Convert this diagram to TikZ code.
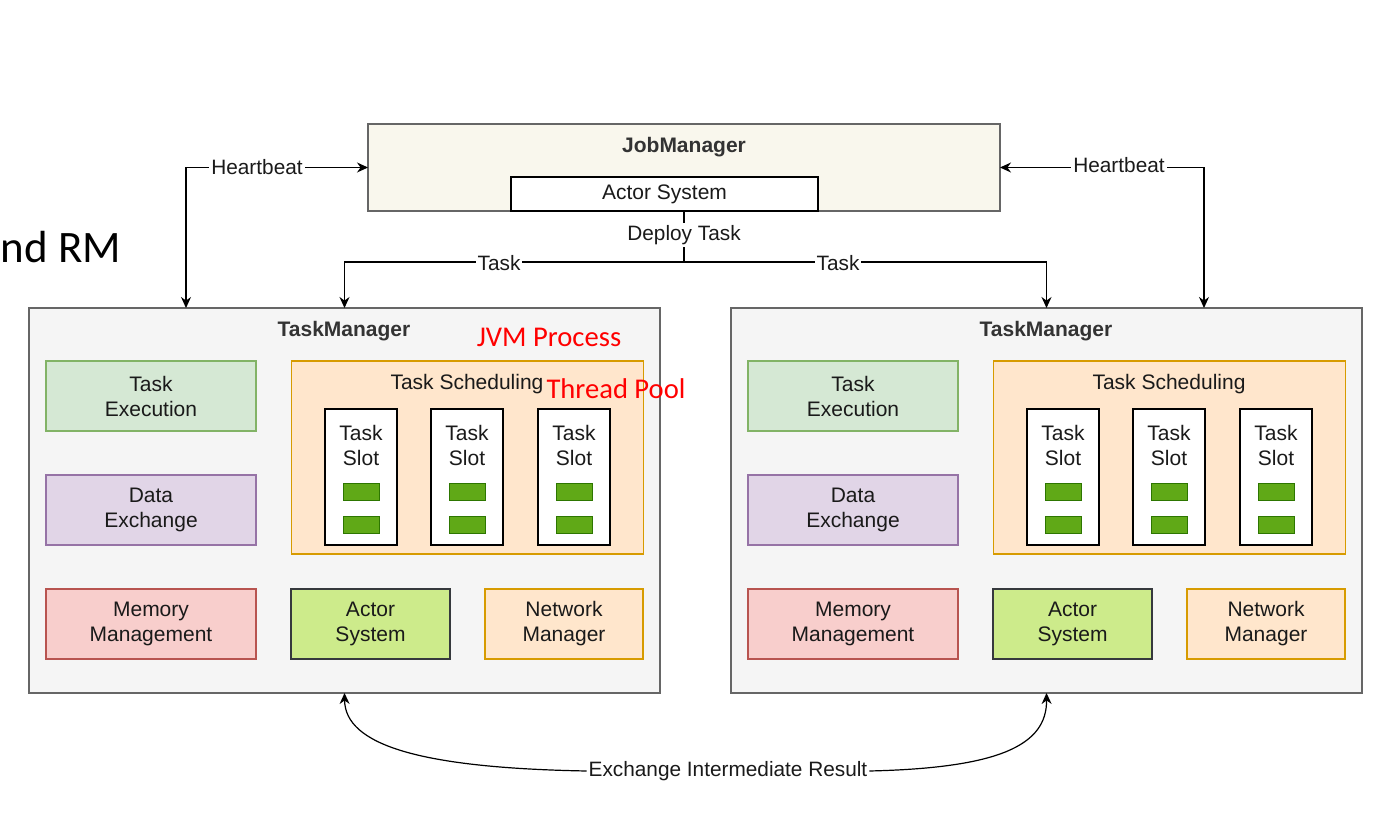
\documentclass[tikz,border=0pt]{standalone}
\usepackage{fontspec}
\setmainfont{Liberation Sans}
\newfontfamily\calib{Carlito}
\usetikzlibrary{calc,arrows.meta}
\definecolor{jmfill}{HTML}{F9F7ED}
\definecolor{frame}{HTML}{666666}
\definecolor{tmfill}{HTML}{F5F5F5}
\definecolor{gfill}{HTML}{D5E8D4}\definecolor{gdraw}{HTML}{82B366}
\definecolor{pfill}{HTML}{E1D5E7}\definecolor{pdraw}{HTML}{9673A6}
\definecolor{rfill}{HTML}{F8CECC}\definecolor{rdraw}{HTML}{B85450}
\definecolor{lfill}{HTML}{CDEB8B}\definecolor{ldraw}{HTML}{36393D}
\definecolor{ofill}{HTML}{FFE6CC}\definecolor{odraw}{HTML}{D79B00}
\definecolor{sfill}{HTML}{60A917}\definecolor{sdraw}{HTML}{2D7600}
\definecolor{txt}{HTML}{1A1A1A}
\tikzset{
  every node/.style={inner sep=0pt, outer sep=0pt, text=txt},
  base/.style={draw, line width=0.6pt, align=center, font=\fontsize{10.5pt}{12.5pt}\selectfont},
  tmbox/.style={base, fill=tmfill, draw=frame, minimum width=315.5pt, minimum height=192.5pt},
  comp/.style={base, minimum width=105pt, minimum height=35pt},
  slotbox/.style={base, fill=white, draw=black, minimum width=36pt, minimum height=68pt},
  gbar/.style={draw=sdraw, fill=sfill, line width=0.5pt, minimum width=18pt, minimum height=8.5pt},
  lbl/.style={fill=white, inner sep=1pt, font=\fontsize{10.4pt}{12pt}\selectfont},
  bold/.style={font=\bfseries\fontsize{10.5pt}{12pt}\selectfont, text=black!80},
  red/.style={text=red, font=\calib\fontsize{14.3pt}{16pt}\selectfont},
  conn/.style={line width=0.6pt, black},
  arr/.style={-{Stealth[length=5.5pt,width=5pt]}},
  darr/.style={{Stealth[length=5.5pt,width=5pt]}-{Stealth[length=5.5pt,width=5pt]}},
}
\begin{document}
\begin{tikzpicture}[x=0.5pt,y=-0.5pt]
\useasboundingbox (0,0) rectangle (1397,817);
% slide fragment
\node[anchor=west, font=\calib\fontsize{22.5pt}{28pt}\selectfont, text=black] (rm) at (1,247) {nd RM};
% JobManager
\node[base, fill=jmfill, draw=frame, minimum width=316pt, minimum height=43.5pt] (jm) at (684,167.5) {};
\node[bold] (jmt) at (684,147) {JobManager};
\node[base, fill=white, draw=black, minimum width=153.5pt, minimum height=17pt] (jmas) at (664.5,194) {Actor System};
% TaskManagers
\foreach \o/\i in {0/1,702/2}{
  \node[tmbox] (tm\i) at (344.5+\o,500.5) {};
  \node[bold] (tmt\i) at (344+\o,331) {TaskManager};
  \node[comp, fill=gfill, draw=gdraw] (te\i) at (151+\o,396) {Task\\Execution};
  \node[comp, fill=pfill, draw=pdraw] (de\i) at (151+\o,510) {Data\\Exchange};
  \node[comp, fill=rfill, draw=rdraw] (mm\i) at (151+\o,624) {Memory\\Management};
  \node[comp, fill=lfill, draw=ldraw, minimum width=79.5pt] (as\i) at (370.5+\o,624) {Actor\\System};
  \node[comp, fill=ofill, draw=odraw, minimum width=79pt] (nm\i) at (564+\o,624) {Network\\Manager};
  \node[base, fill=ofill, draw=odraw, minimum width=176pt, minimum height=96.5pt] (ts\i) at (467.5+\o,457.5) {};
  \node[base, draw=none] (tst\i) at (467+\o,384) {Task Scheduling};
  \foreach \sx/\j in {361/a,467/b,574/c}{
    \node[slotbox] (sl\i\j) at (\sx+\o,477) {};
    \node[base, draw=none] (slt\i\j) at (\sx+\o,445) {Task\\Slot};
    \node[gbar] (g\i\j1) at (\sx+\o,492.5) {};
    \node[gbar] (g\i\j2) at (\sx+\o,525.5) {};
  }
}
\node[red] (jvm) at (549,337) {JVM Process};
\node[red] (tp) at (616,389) {Thread Pool};
% Heartbeats
\draw[conn, darr] (jm.west) -| ($(tm1.north west)+(157,0)$);
\draw[conn, darr] (jm.east) -| ($(tm2.north west)+(473,0)$);
\node[lbl] (hb1) at (257,167) {Heartbeat};
\node[lbl] (hb2) at (1119,165) {Heartbeat};
% Deploy tasks
\coordinate (split) at (684,262);
\draw[conn] (jm.south) -- (split);
\draw[conn, arr] (split) -| (tm1.north);
\draw[conn, arr] (split) -| (tm2.north);
\node[lbl] (dt) at (684,235) {Deploy Task};
\node[lbl] (tk1) at (499,263) {Task};
\node[lbl] (tk2) at (838,263) {Task};
% Exchange
\node[lbl] (ex) at (728,771) {Exchange Intermediate Result};
\draw[conn, arr] (ex.west) .. controls (420,768) and (345,745) .. (tm1.south);
\draw[conn, arr] (ex.east) .. controls (1000,768) and (1047,745) .. (tm2.south);
\end{tikzpicture}
\end{document}
